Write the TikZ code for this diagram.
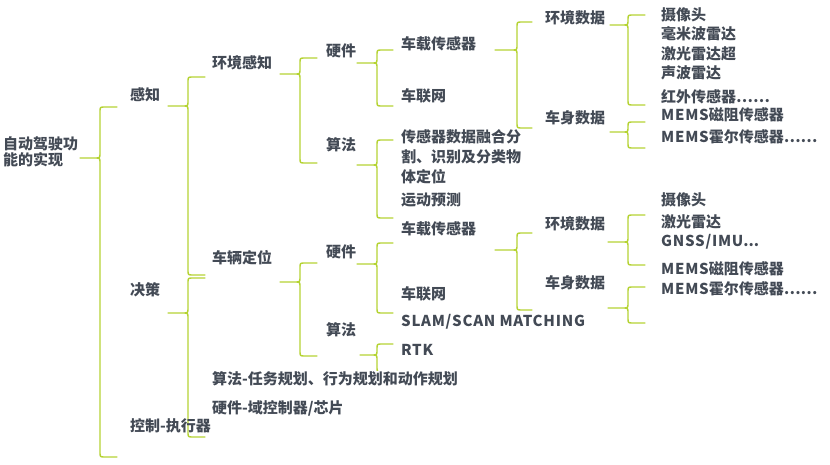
\documentclass[tikz,border=0pt]{standalone}
\usepackage{fontspec}
\setmainfont{Noto Sans CJK SC}
\usepackage{tikz}
\definecolor{bracegreen}{HTML}{B5D334}
\definecolor{textgray}{HTML}{434A55}
\newcommand{\wide}[1]{{\addfontfeature{LetterSpace=5}#1}}
\tikzset{
    brace/.style={
        draw=bracegreen, line width=1.4pt,
        line join=round, line cap=round
    }
}
% tip x, line x, end x, top y, middle y, bottom y
\newcommand{\drawbrace}[6]{%
    \draw[brace] (#3,#4) -- (#2+5,#4) .. controls (#2,#4) .. (#2,#4+5)
        -- (#2,#5-5) .. controls (#2,#5) .. (#2-5,#5) -- (#1,#5)
        (#2-5,#5) .. controls (#2,#5) .. (#2,#5+5)
        -- (#2,#6-5) .. controls (#2,#6) .. (#2+5,#6) -- (#3,#6);
}

\begin{document}
\begin{tikzpicture}[
        x=1pt, y=-1pt,
        txt/.style={
            anchor=west, inner sep=0pt, text=textgray, align=left,
            font=\fontsize{15}{20}\selectfont\bfseries
        }
      ]
    \useasboundingbox (0,0) rectangle (830,465);

    \drawbrace{80}{100}{117}{107}{158}{457}
    \drawbrace{168}{188}{205}{77}{106}{275}
    \drawbrace{168}{188}{205}{278}{313}{437}
    \drawbrace{280}{300}{317}{58}{74}{163}
    \drawbrace{357}{377}{393}{50}{63}{106}
    \drawbrace{357}{377}{393}{140}{165}{218}
    \drawbrace{495}{517}{532}{22}{50}{128}
    \drawbrace{610}{628}{645}{15}{25}{105}
    \drawbrace{610}{628}{645}{122}{132}{148}
    \drawbrace{280}{300}{317}{263}{282}{356}
    \drawbrace{357}{377}{393}{243}{264}{313}
    \drawbrace{360}{377}{393}{344}{355}{372}
    \drawbrace{495}{517}{532}{233}{250}{310}
    \drawbrace{608}{628}{645}{215}{242}{265}
    \drawbrace{608}{628}{645}{287}{308}{323}

    \node[txt,font=\fontsize{15}{16}\selectfont\bfseries] (root) at (3,152) {自动驾驶功\\能的实现};

    \node[txt] (perc)  at (130,95)  {感知};
    \node[txt] (deci)  at (130,290) {决策};
    \node[txt] (ctrl)  at (130,426) {控制-执行器};

    \node[txt] (envp)  at (212,63)  {环境感知};
    \node[txt] (vloc)  at (212,258) {车辆定位};
    \node[txt,fill=white,inner sep=1pt] (plan) at (211,379) {算法-任务规划、行为规划和动作规划};
    \node[txt] (chip)  at (212,408) {硬件-域控制器/芯片};

    \node[txt] (hwA)   at (326,51)  {硬件};
    \node[txt] (algA)  at (326,145) {算法};
    \node[txt] (sensA) at (401,44)  {车载传感器};
    \node[txt] (netA)  at (401,96)  {车联网};
    \node[txt] (fuse)  at (401,157) {传感器数据融合分\\割、识别及分类物\\体定位};
    \node[txt] (pred)  at (401,200) {运动预测};

    \node[txt] (envA)  at (545,18)  {环境数据};
    \node[txt] (bodyA) at (545,118) {车身数据};
    \node[txt] (camA)  at (661,15)  {摄像头};
    \node[txt] (mmw)   at (661,34)  {毫米波雷达};
    \node[txt] (lidA)  at (661,54)  {激光雷达超};
    \node[txt] (sonar) at (661,73)  {声波雷达};
    \node[txt] (ir)    at (661,97)  {红外传感器……};
    \node[txt] (mrA)   at (661,115) {\wide{MEMS}磁阻传感器};
    \node[txt] (hallA) at (661,137) {\wide{MEMS}霍尔传感器……};

    \node[txt] (hwB)   at (326,252) {硬件};
    \node[txt] (algB)  at (326,330) {算法};
    \node[txt] (sensB) at (401,229) {车载传感器};
    \node[txt] (netB)  at (401,294) {车联网};
    \node[txt] (slam)  at (401,322) {\wide{SLAM/SCAN MATCHING}};
    \node[txt] (rtk)   at (401,350) {\wide{RTK}};

    \node[txt] (envB)  at (545,224) {环境数据};
    \node[txt] (bodyB) at (545,283) {车身数据};
    \node[txt] (camB)  at (661,200) {摄像头};
    \node[txt] (lidB)  at (661,222) {激光雷达};
    \node[txt] (gnss)  at (661,242) {\wide{GNSS/IMU}...};
    \node[txt] (mrB)   at (661,269) {\wide{MEMS}磁阻传感器};
    \node[txt] (hallB) at (661,289) {\wide{MEMS}霍尔传感器……};

\end{tikzpicture}
\end{document}
